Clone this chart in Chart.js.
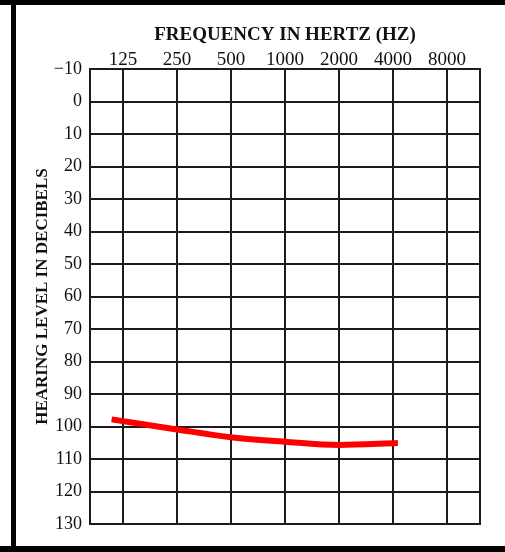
<!DOCTYPE html>
<html>
<head>
<meta charset="utf-8">
<script src="https://cdn.jsdelivr.net/npm/chart.js@4/dist/chart.umd.min.js"></script>
<style>
  html, body { margin: 0; padding: 0; background: #fff; }
  #wrap { position: relative; width: 505px; height: 552px; }
  #frameTop { position: absolute; left: 0; top: 0; width: 505px; height: 5px; background: #000; }
  #frameLeft { position: absolute; left: 11px; top: 0; width: 5px; height: 552px; background: #000; }
  #frameBottom { position: absolute; left: 0; bottom: 0; width: 505px; height: 6px; background: #000; }
  canvas { position: absolute; left: 0; top: 0; }
</style>
</head>
<body>
<div id="wrap">
  <canvas id="audiogram" width="505" height="552"></canvas>
  <div id="frameTop"></div>
  <div id="frameLeft"></div>
  <div id="frameBottom"></div>
</div>
<script>
// frequency columns (octave steps from 125 Hz)
const freqLabels = ['125', '250', '500', '1000', '2000', '4000', '8000'];
const freqIndex = [0, 1, 2, 3, 4, 5, 6];

// hearing level axis (dB), drawn downward
const dbMin = -10;
const dbMax = 130;
const dbStep = 10;

// hand drawn red curve, x in octaves above 125 Hz
const curveOctave = [-0.21, 1, 2, 3, 4, 5.09];
const curveDb = [97.8, 100.9, 103.3, 104.7, 105.7, 105.1];

const gridColor = '#1c1c1c';
const serif = "'Liberation Serif', 'DejaVu Serif', serif";

const plotBox = {
    id: 'plotBox',
    afterDatasetsDraw(chart) {
        const { ctx, chartArea } = chart;
        ctx.save();
        ctx.strokeStyle = gridColor;
        ctx.lineWidth = 2;
        ctx.strokeRect(chartArea.left, chartArea.top, chartArea.right - chartArea.left, chartArea.bottom - chartArea.top);
        ctx.restore();
    }
};

new Chart(document.getElementById('audiogram'), {
    type: 'line',
    data: {
        datasets: [{
            data: curveOctave.map((x, i) => ({ x: x, y: curveDb[i] })),
            borderColor: '#ff0000',
            borderWidth: 6,
            borderCapStyle: 'butt',
            cubicInterpolationMode: 'monotone',
            pointRadius: 0,
            fill: false
        }]
    },
    options: {
        responsive: false,
        animation: false,
        layout: { padding: { left: 0, right: 25, top: 0, bottom: 28 } },
        plugins: { legend: { display: false }, tooltip: { enabled: false } },
        scales: {
            x: {
                type: 'linear',
                position: 'top',
                min: -0.61,
                max: 6.61,
                afterBuildTicks: scale => { scale.ticks = freqIndex.map(v => ({ value: v })); },
                afterFit: scale => { scale.height = 69; },
                grid: { color: gridColor, lineWidth: 2, drawTicks: false },
                border: { color: gridColor, width: 2 },
                ticks: {
                    padding: -2,
                    color: '#111',
                    font: { family: serif, size: 19 },
                    callback: v => freqLabels[freqIndex.indexOf(v)]
                },
                title: {
                    display: true,
                    text: 'FREQUENCY IN HERTZ (HZ)',
                    color: '#111',
                    font: { family: serif, size: 19, weight: 'bold' },
                    padding: { top: 24, bottom: 0 }
                }
            },
            y: {
                type: 'linear',
                reverse: true,
                min: dbMin,
                max: dbMax,
                afterFit: scale => { scale.width = 90; },
                grid: { color: gridColor, lineWidth: 2, drawTicks: false },
                border: { color: gridColor, width: 2 },
                ticks: {
                    stepSize: dbStep,
                    padding: 8,
                    color: '#111',
                    font: { family: serif, size: 18 },
                    callback: v => v < 0 ? '\u2212' + Math.abs(v) : String(v)
                },
                title: {
                    display: true,
                    text: 'HEARING LEVEL IN DECIBELS',
                    color: '#111',
                    font: { family: serif, size: 17, weight: 'bold' },
                    padding: { top: 32, bottom: 0 }
                }
            }
        }
    },
    plugins: [plotBox]
});
</script>
</body>
</html>
